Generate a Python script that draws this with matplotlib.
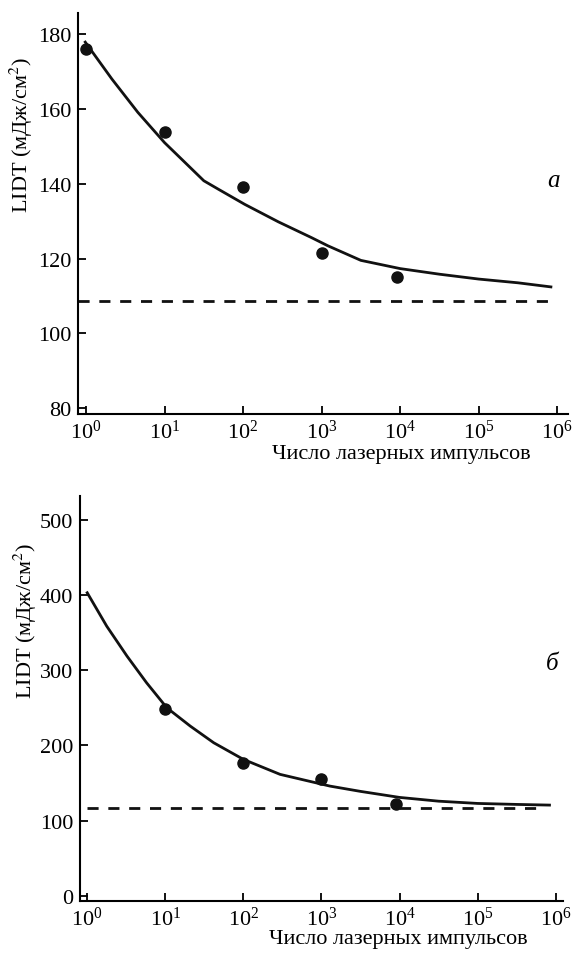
import matplotlib
matplotlib.use('Agg')
import matplotlib.pyplot as plt
import matplotlib.ticker as mticker

plt.rcParams['font.family'] = ['Liberation Serif', 'DejaVu Serif']
plt.rcParams['mathtext.fontset'] = 'stix'

# ---- panel a ----
pts_a_x = [1, 10, 100, 1000, 9000]
pts_a_y = [176, 153.8, 139, 121.4, 115]
fit_a_logx = [-0.01, 0.33, 0.66, 1.0, 1.26, 1.5, 1.68, 2.02, 2.45, 2.87, 3.08, 3.5, 4.0, 4.5, 5.0, 5.5, 5.92]
fit_a_y = [177.9, 168, 159.1, 151, 145.7, 140.8, 138.6, 134.5, 129.8, 125.6, 123.4, 119.5, 117.3, 115.8, 114.5, 113.5, 112.4]
base_a = 108.6
base_a_x = [0.79, 10**5.93]

# ---- panel б ----
pts_b_x = [10, 100, 1000, 9000]
pts_b_y = [249, 177, 156, 122.6]
fit_b_logx = [0.0, 0.25, 0.51, 0.76, 1.02, 1.32, 1.62, 2.0, 2.47, 3.11, 3.5, 4.0, 4.5, 5.0, 5.5, 5.92]
fit_b_y = [402.8, 358.4, 318.6, 283.3, 250, 225.7, 203.6, 181.5, 161.6, 146, 139, 131, 126, 123, 121.7, 120.8]
base_b = 116.5
base_b_x = [1, 10**5.82]

xticks = [10**k for k in range(0, 7)]
xlabel = 'Число лазерных импульсов'
ylabel = 'LIDT (мДж/см$^2$)'

fig = plt.figure(figsize=(5.76, 9.54), dpi=100)
ax1 = fig.add_axes([0.1354, 0.565, 0.851, 0.42])
ax2 = fig.add_axes([0.139, 0.0548, 0.838, 0.424])


def style(ax):
    ax.set_xscale('log')
    ax.spines['top'].set_visible(False)
    ax.spines['right'].set_visible(False)
    for s in ['left', 'bottom']:
        ax.spines[s].set_linewidth(1.5)
    ax.tick_params(direction='in', length=6, width=1.3, labelsize=16, pad=5)
    ax.tick_params(axis='x', pad=4)
    ax.set_xticks(xticks)
    ax.xaxis.set_minor_locator(mticker.NullLocator())


# panel a
ax1.plot([10**v for v in fit_a_logx], fit_a_y, color='#111111', linewidth=2)
ax1.plot(base_a_x, [base_a, base_a], color='#111111', linewidth=2, linestyle=(0, (4, 3.5)))
ax1.plot(pts_a_x, pts_a_y, 'o', color='#111111', markersize=8)
style(ax1)
ax1.set_xlim(0.79, 1.38e6)
ax1.set_ylim(78.4, 185.6)
ax1.set_yticks([80, 100, 120, 140, 160, 180])
ax1.set_xlabel(xlabel, fontsize=16, labelpad=1, x=0.66)
ax1.set_ylabel(ylabel, fontsize=16)
ax1.yaxis.set_label_coords(-0.088, 0.698)
ax1.text(10**5.95, 141, 'а', fontsize=18, style='italic', ha='center', va='center')

# panel б
ax2.plot([10**v for v in fit_b_logx], fit_b_y, color='#111111', linewidth=2)
ax2.plot(base_b_x, [base_b, base_b], color='#111111', linewidth=2, linestyle=(0, (4, 3.5)))
ax2.plot(pts_b_x, pts_b_y, 'o', color='#111111', markersize=8)
style(ax2)
ax2.set_xlim(0.81, 1.23e6)
ax2.set_ylim(-6.2, 531)
ax2.set_yticks([0, 100, 200, 300, 400, 500])
ax2.set_xlabel(xlabel, fontsize=16, labelpad=0, x=0.66)
ax2.set_ylabel(ylabel, fontsize=16)
ax2.yaxis.set_label_coords(-0.085, 0.693)
ax2.text(10**5.95, 310, 'б', fontsize=18, style='italic', ha='center', va='center')

plt.savefig('out.png', dpi=100, facecolor='white')
print("Saved out.png")
